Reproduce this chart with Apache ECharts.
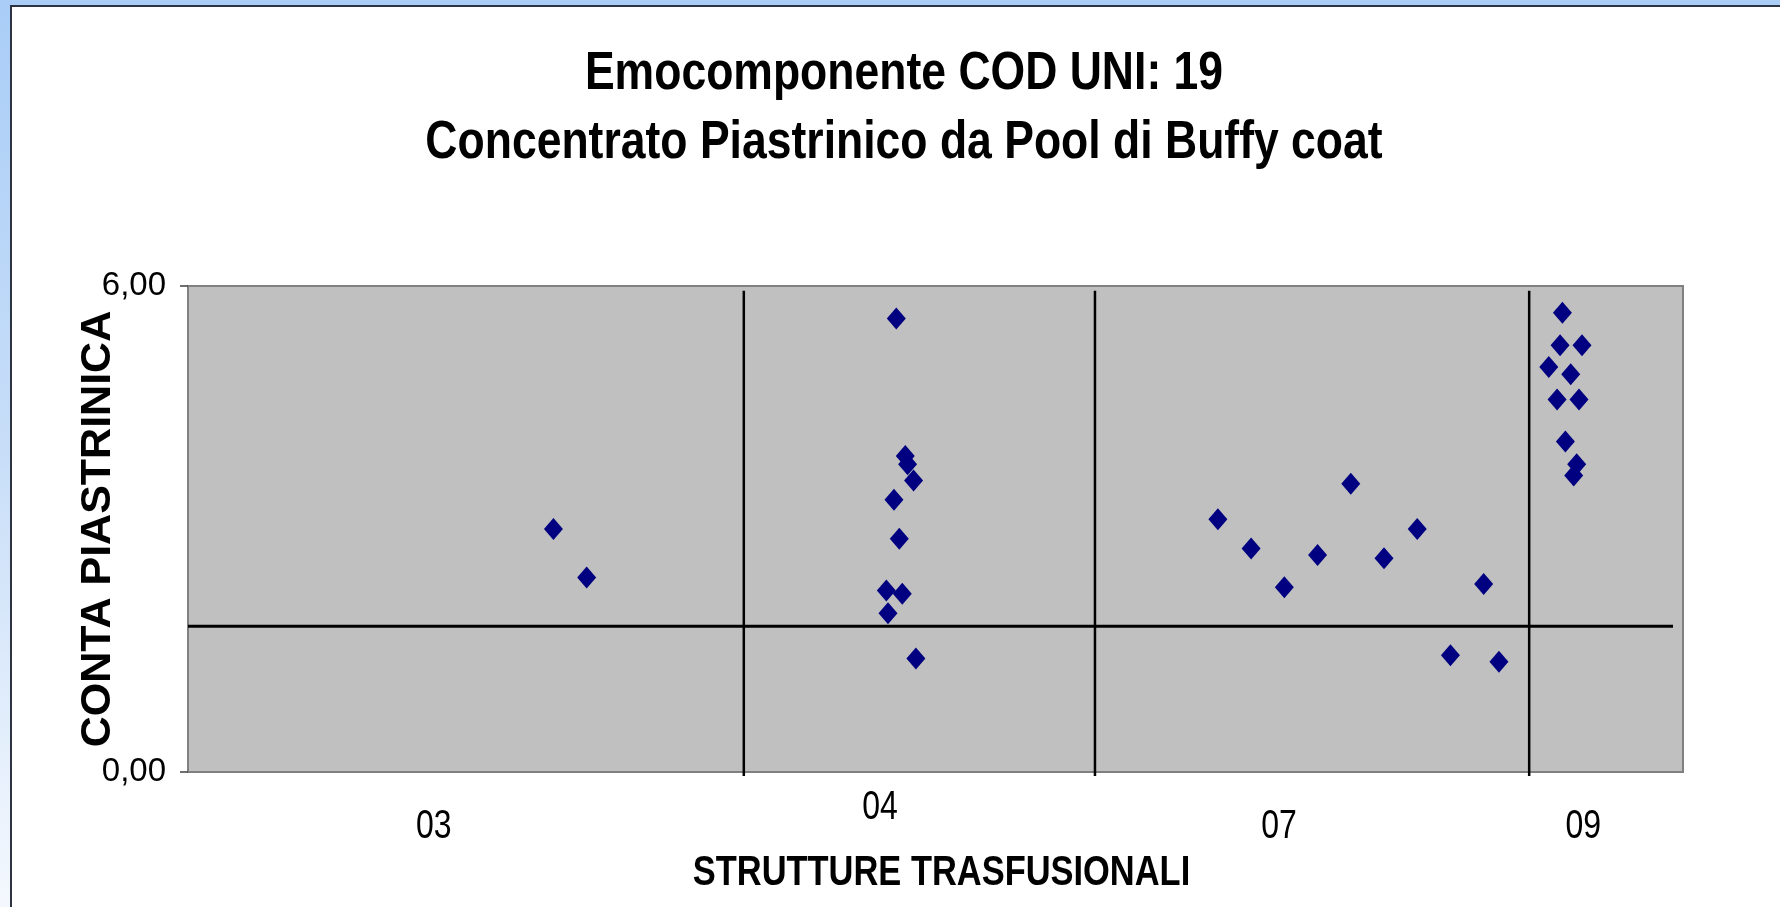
<!DOCTYPE html>
<html>
<head>
<meta charset="utf-8">
<script src="https://cdn.jsdelivr.net/npm/echarts@6/dist/echarts.min.js"></script>
<style>
  html, body { margin: 0; padding: 0; width: 1780px; height: 907px; overflow: hidden;
    background: linear-gradient(to bottom, #A9CDF7 0%, #C8DEF8 50%, #F4F8FE 100%); }
  #chart { position: absolute; left: 10px; top: 5px; width: 1770px; height: 902px;
    box-sizing: border-box; border-left: 2px solid #2d3340; border-top: 2px solid #2d3340; background: #ffffff; }
</style>
</head>
<body>
<div id="chart"></div>
<script>
// ---- data ----
const titleLines = ['Emocomponente COD UNI: 19', 'Concentrato Piastrinico da Pool di Buffy coat'];
const yAxisTitle = 'CONTA PIASTRINICA';
const xAxisTitle = 'STRUTTURE TRASFUSIONALI';
const yTicks = [0, 6];

// category (structure) labels and their horizontal positions on the x scale
const catLabels = ['03', '04', '07', '09'];
const catLabelX = [7.4, 20.83, 32.84, 42.0];

// points per structure: x position (sequence index) and value
const s03X = [11, 12];
const s03Y = [3.00, 2.40];
const s04X = [21.32, 21.59, 21.66, 21.84, 21.25, 21.41, 21.02, 21.50, 21.07, 21.91];
const s04Y = [5.60, 3.90, 3.80, 3.60, 3.36, 2.88, 2.24, 2.20, 1.96, 1.40];
const s07X = [31, 32, 33, 34, 35, 36, 37, 38, 39, 39.46];
const s07Y = [3.12, 2.76, 2.28, 2.68, 3.56, 2.64, 3.00, 1.44, 2.32, 1.36];
const s09X = [41.37, 41.30, 41.96, 40.96, 41.62, 41.21, 41.87, 41.46, 41.80, 41.71];
const s09Y = [5.67, 5.27, 5.27, 5.00, 4.91, 4.60, 4.60, 4.08, 3.80, 3.66];

// reference lines
const thresholdY = 1.8;
const thresholdXRange = [0, 44.7];
const separatorX = [16.73, 27.30, 40.37];
const separatorYRange = [5.94, -0.05];

// ---- build options ----
const points = [];
[[s03X, s03Y], [s04X, s04Y], [s07X, s07Y], [s09X, s09Y]].forEach(([xs, ys]) => {
  xs.forEach((x, i) => points.push([x, ys[i]]));
});

const sans = "'Liberation Sans', Arial, sans-serif";

const series = [];
separatorX.forEach((x) => {
  series.push({
    type: 'line', xAxisIndex: 0, yAxisIndex: 0, clip: false, silent: true,
    symbol: 'none', z: 2,
    lineStyle: { color: '#000000', width: 2.5 },
    data: [[x, separatorYRange[0]], [x, separatorYRange[1]]]
  });
});
series.push({
  type: 'line', xAxisIndex: 0, yAxisIndex: 0, clip: false, silent: true,
  symbol: 'none', z: 2,
  lineStyle: { color: '#000000', width: 3 },
  data: [[thresholdXRange[0], thresholdY], [thresholdXRange[1], thresholdY]]
});
series.push({
  type: 'scatter', xAxisIndex: 0, yAxisIndex: 0, z: 5,
  symbol: 'diamond', symbolSize: [19, 22],
  itemStyle: { color: '#000080', opacity: 1 },
  data: points
});

// condensed text (the original picture is horizontally squeezed)
function squeezed(text, x, y, size, k) {
  return {
    type: 'text', x: x, y: y, scaleX: k, scaleY: 1, silent: true, z: 10,
    style: { text: text, align: 'center', verticalAlign: 'middle',
      fontFamily: sans, fontWeight: 'bold', fontSize: size, fill: '#000000' }
  };
}

const option = {
  animation: false,
  backgroundColor: '#ffffff',
  grid: {
    left: 176, top: 279, right: 97, bottom: 135,
    show: true, backgroundColor: '#C0C0C0', borderColor: '#808080', borderWidth: 2
  },
  xAxis: {
    type: 'value', min: 0, max: 45, position: 'bottom',
    axisLine: { show: false }, axisTick: { show: false }, splitLine: { show: false },
    axisLabel: { show: false }
  },
  yAxis: {
    type: 'value', min: yTicks[0], max: yTicks[1], interval: yTicks[1] - yTicks[0],
    name: yAxisTitle, nameLocation: 'middle', nameRotate: 90, nameGap: 68,
    nameMoveOverlap: false,
    nameTextStyle: { fontFamily: sans, fontWeight: 'bold', fontSize: 43, color: '#000000' },
    axisLine: { show: false },
    axisTick: { show: true, length: 8, lineStyle: { color: '#404040', width: 1.5 } },
    splitLine: { show: false },
    axisLabel: {
      margin: 22, fontFamily: sans, fontSize: 33, color: '#000000',
      formatter: (v) => v.toFixed(2).replace('.', ',')
    }
  },
  series: series
};

const chart = echarts.init(document.getElementById('chart'), null, { renderer: 'canvas' });
chart.setOption(option);

// titles, axis title and structure labels placed through the chart's own scales
const gridRect = chart.getModel().getComponent('grid', 0).coordinateSystem.getRect();
const graphics = [
  squeezed(titleLines[0], 892, 67, 53, 0.84),
  squeezed(titleLines[1], 892, 136, 53, 0.84),
  squeezed(xAxisTitle, gridRect.x + gridRect.width / 2 + 6, gridRect.y + gridRect.height + 101, 42, 0.82)
];
catLabels.forEach((lab, i) => {
  const px = chart.convertToPixel({ xAxisIndex: 0 }, catLabelX[i]);
  const lift = lab === '04' ? 19 : 0;
  const g = squeezed(lab, px, gridRect.y + gridRect.height + 55 - lift, 40, 0.8);
  g.style.fontWeight = 'normal';
  graphics.push(g);
});
chart.setOption({ graphic: graphics });
</script>
</body>
</html>
